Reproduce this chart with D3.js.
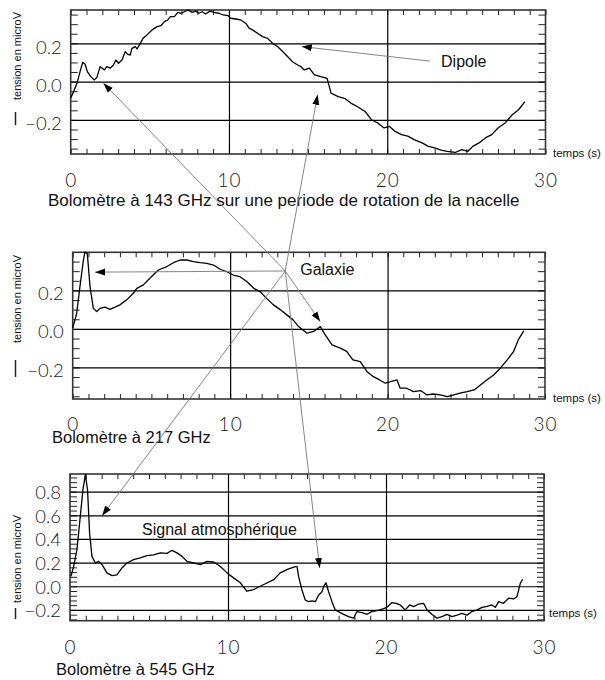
<!DOCTYPE html>
<html><head><meta charset="utf-8">
<script src="https://cdn.jsdelivr.net/npm/d3@7"></script>
<style>body{margin:0;background:#fff}</style></head>
<body><svg id="c" width="605" height="680"></svg>
<script>
// ---------- DATA ----------
const xTickValues = [0, 10, 20, 30];
const xTickLabels = ["0", "10", "20", "30"];
const yTicksSmall = [-0.2, 0.0, 0.2];
const yTicksLarge = [-0.2, 0.0, 0.2, 0.4, 0.6, 0.8];
const captions = [
  "Bolomètre à 143 GHz sur une periode de rotation de la nacelle",
  "Bolomètre à 217 GHz",
  "Bolomètre à 545 GHz"
];
const yTitle = "tension en microV";
const xTitle = "temps (s)";

const t143 = [0,0.17,0.42,0.59,0.76,0.91,1.05,1.27,1.48,1.65,1.86,2.0,2.13,2.28,2.49,2.7,2.85,3.02,3.24,3.45,3.59,3.76,3.87,4.08,4.19,4.4,4.57,4.82,5.14,5.46,5.71,5.92,6.13,6.3,6.55,6.77,6.98,7.19,7.4,7.68,7.89,8.1,8.31,8.52,8.8,9.05,9.37,9.64,9.94,10.1,10.43,10.74,11.06,11.27,11.48,11.8,12.12,12.44,12.75,13.07,13.39,13.7,14.02,14.34,14.55,14.76,15.08,15.4,15.8,16.2,16.45,16.9,17.3,17.7,18.1,18.6,19.0,19.4,19.8,20.15,20.5,20.9,21.3,21.7,22.2,22.6,23.0,23.4,23.8,24.3,24.7,25.1,25.4,25.8,26.2,26.6,27.0,27.45,27.9,28.3,28.7];
const v143 = [-0.085,-0.055,-0.003,0.052,0.101,0.091,0.052,0.026,0.009,0.021,0.078,0.07,0.061,0.078,0.07,0.087,0.113,0.096,0.113,0.157,0.143,0.139,0.174,0.183,0.171,0.2,0.226,0.244,0.27,0.287,0.293,0.313,0.322,0.339,0.339,0.362,0.357,0.365,0.374,0.362,0.368,0.357,0.365,0.353,0.368,0.362,0.357,0.348,0.345,0.331,0.327,0.322,0.305,0.279,0.27,0.253,0.235,0.226,0.2,0.183,0.157,0.131,0.104,0.087,0.078,0.061,0.07,0.035,0.026,0.017,-0.06,-0.078,-0.087,-0.112,-0.13,-0.156,-0.199,-0.216,-0.242,-0.234,-0.26,-0.277,-0.285,-0.303,-0.32,-0.338,-0.346,-0.358,-0.364,-0.37,-0.355,-0.364,-0.338,-0.32,-0.294,-0.277,-0.242,-0.216,-0.173,-0.147,-0.104];

const t217 = [0,0.25,0.46,0.68,0.78,0.93,1.1,1.31,1.52,1.74,2.05,2.37,2.69,3.0,3.43,3.85,4.07,4.49,4.9,5.44,5.98,6.4,6.82,7.25,7.67,8.09,8.52,8.94,9.36,9.79,10.2,10.6,11.06,11.5,11.9,12.3,12.75,13.2,13.6,14.0,14.35,14.88,15.3,15.73,16.04,16.47,17.0,17.4,17.8,18.26,18.7,19.1,19.5,19.85,20.2,20.6,20.8,21.2,21.65,22.1,22.5,22.9,23.35,23.8,24.2,24.6,25.05,25.5,25.9,26.3,26.74,27.16,27.6,28.0,28.3,28.65];
const v217 = [0.004,0.08,0.22,0.358,0.4,0.39,0.22,0.107,0.09,0.107,0.113,0.102,0.113,0.125,0.151,0.185,0.211,0.229,0.263,0.306,0.324,0.344,0.358,0.358,0.35,0.344,0.341,0.332,0.31,0.297,0.28,0.272,0.246,0.211,0.194,0.16,0.125,0.099,0.073,0.047,0.012,-0.022,-0.013,0.012,-0.031,-0.083,-0.1,-0.117,-0.161,-0.17,-0.222,-0.248,-0.265,-0.282,-0.274,-0.265,-0.308,-0.308,-0.326,-0.32,-0.343,-0.338,-0.343,-0.352,-0.343,-0.334,-0.326,-0.317,-0.291,-0.265,-0.239,-0.204,-0.161,-0.118,-0.057,-0.01];

const t545 = [0.06,0.23,0.44,0.65,0.82,0.97,1.11,1.24,1.39,1.6,1.81,2.03,2.34,2.66,2.97,3.29,3.6,4.03,4.45,4.87,5.29,5.72,6.14,6.46,6.77,7.09,7.4,7.82,8.25,8.67,9.09,9.5,9.94,10.35,10.78,11.2,11.62,12.04,12.46,12.9,13.3,13.73,13.94,14.26,14.37,14.47,14.68,14.89,15.1,15.32,15.53,15.74,15.95,16.05,16.2,16.37,16.58,16.79,17.1,17.32,17.63,17.95,18.16,18.48,18.8,19.1,19.43,19.75,20.06,20.38,20.65,20.9,21.22,21.5,21.75,22.06,22.38,22.6,22.9,23.23,23.54,23.86,24.18,24.5,24.8,25.13,25.44,25.76,26.08,26.4,26.7,26.92,27.13,27.44,27.76,28.08,28.29,28.5,28.65];
const v545 = [0.084,0.169,0.31,0.59,0.816,0.943,0.816,0.45,0.253,0.197,0.21,0.183,0.113,0.09,0.096,0.155,0.197,0.225,0.24,0.259,0.265,0.282,0.278,0.304,0.282,0.253,0.211,0.197,0.183,0.211,0.205,0.169,0.113,0.071,0.029,-0.042,-0.028,0.0,0.028,0.056,0.113,0.141,0.152,0.166,0.166,0.081,-0.031,-0.116,-0.13,-0.124,-0.13,-0.074,-0.046,-0.003,0.03,-0.046,-0.13,-0.2,-0.223,-0.237,-0.257,-0.27,-0.214,-0.223,-0.237,-0.214,-0.206,-0.194,-0.178,-0.138,-0.144,-0.158,-0.2,-0.158,-0.172,-0.15,-0.144,-0.2,-0.237,-0.27,-0.257,-0.237,-0.257,-0.244,-0.23,-0.244,-0.214,-0.2,-0.178,-0.169,-0.158,-0.178,-0.13,-0.144,-0.101,-0.107,-0.087,0.025,0.059];

// annotation labels and arrows (in data coordinates of their panel)
const annLabels = ["Dipole", "Galaxie", "Signal atmosphérique"];
const annLabelPanel = [0, 1, 2];
const annLabelT = [23.4, 14.45, 4.56];
const annLabelV = [0.078, 0.28, 0.436];
const arrowFromPanel = [0, 1, 1, 1, 1, 1, 1];
const arrowFromT = [22.7, 13.5, 13.5, 13.5, 13.5, 13.5, 13.5];
const arrowFromV = [0.107, 0.301, 0.301, 0.301, 0.301, 0.301, 0.301];
const arrowToPanel = [0, 0, 0, 1, 1, 2, 2];
const arrowToT = [14.6, 2.07, 15.6, 1.42, 15.72, 2.03, 15.8];
const arrowToV = [0.183, -0.008, -0.069, 0.295, 0.038, 0.597, 0.155];

// ---------- LAYOUT ----------
const panels = [
  {t: t143, v: v143, left: 70.7, right: 545.5, top: 10, bottom: 154, yDom: [-0.378, 0.374], yTicks: yTicksSmall, minor: 0.05, lblDy: 10, xLblY: 187, capX: 48, capY: 206, capSize: 17, tempsX: 553, tempsY: 157, titleStart: 100, barY: [112, 125]},
  {t: t217, v: v217, left: 72.7, right: 545, top: 252.3, bottom: 399, yDom: [-0.364, 0.398], yTicks: yTicksSmall, minor: 0.05, lblDy: 9, xLblY: 431, capX: 52, capY: 442.5, capSize: 16.5, tempsX: 553, tempsY: 402, titleStart: 343, barY: [360, 377]},
  {t: t545, v: v545, left: 70, right: 544, top: 474, bottom: 620.7, yDom: [-0.291, 0.949], yTicks: yTicksLarge, minor: 0.04, lblDy: 7, xLblY: 654, capX: 56, capY: 675, capSize: 16.5, tempsX: 549, tempsY: 617, titleStart: 603, barY: [608, 619]}
];

const svg = d3.select("#c");
const FONT = "'Liberation Sans', Arial, Helvetica, sans-serif";
const NUMFONT = "Lato, 'Liberation Sans', sans-serif";

svg.append("defs").append("marker")
  .attr("id", "ah").attr("viewBox", "0 -4 10 8")
  .attr("refX", 10).attr("refY", 0)
  .attr("markerWidth", 10).attr("markerHeight", 8)
  .attr("markerUnits", "userSpaceOnUse")
  .attr("orient", "auto")
  .append("path").attr("d", "M0,-3.5L10,0L0,3.5Z").attr("fill", "#000");

const fmt = v => (v < 0 ? "\u2212" : "") + Math.abs(v).toFixed(1);

panels.forEach((p, i) => {
  p.x = d3.scaleLinear().domain([0, 30]).range([p.left, p.right]);
  p.y = d3.scaleLinear().domain(p.yDom).range([p.bottom, p.top]);
  const w = p.right - p.left, h = p.bottom - p.top;
  const g = svg.append("g");

  const styleTicks = s => s.selectAll("line").attr("stroke", "#222").attr("stroke-width", 1);

  // minor ticks x (top & bottom)
  const xMinor = d3.range(0, 31, 1);
  g.append("g").attr("transform", `translate(0,${p.bottom})`)
    .call(d3.axisBottom(p.x).tickValues(xMinor).tickSize(-5).tickFormat(""))
    .call(s => s.select(".domain").remove()).call(styleTicks);
  g.append("g").attr("transform", `translate(0,${p.top})`)
    .call(d3.axisTop(p.x).tickValues(xMinor).tickSize(-5).tickFormat(""))
    .call(s => s.select(".domain").remove()).call(styleTicks);

  // minor ticks y (left & right)
  const k0 = Math.ceil(p.yDom[0] / p.minor - 1e-6), k1 = Math.floor(p.yDom[1] / p.minor + 1e-6);
  const yMinor = d3.range(k0, k1 + 1).map(k => +(k * p.minor).toFixed(3));
  g.append("g").attr("transform", `translate(${p.left},0)`)
    .call(d3.axisLeft(p.y).tickValues(yMinor).tickSize(-7).tickFormat(""))
    .call(s => s.select(".domain").remove()).call(styleTicks);
  g.append("g").attr("transform", `translate(${p.right},0)`)
    .call(d3.axisRight(p.y).tickValues(yMinor).tickSize(-7).tickFormat(""))
    .call(s => s.select(".domain").remove()).call(styleTicks);

  // grid lines
  g.append("g").attr("transform", `translate(${p.left},0)`)
    .call(d3.axisLeft(p.y).tickValues(p.yTicks).tickSize(-w).tickFormat(""))
    .call(s => s.select(".domain").remove())
    .selectAll("line").attr("stroke", "#000").attr("stroke-width", 1.2);
  g.append("g").attr("transform", `translate(0,${p.bottom})`)
    .call(d3.axisBottom(p.x).tickValues([10, 20]).tickSize(-h).tickFormat(""))
    .call(s => s.select(".domain").remove())
    .selectAll("line").attr("stroke", "#000").attr("stroke-width", 1.2);

  // frame
  g.append("rect").attr("x", p.left).attr("y", p.top).attr("width", w).attr("height", h)
    .attr("fill", "none").attr("stroke", "#333").attr("stroke-width", 1.6);

  // y tick labels
  g.append("g").attr("transform", `translate(${p.left},0)`)
    .call(d3.axisLeft(p.y).tickValues(p.yTicks).tickSize(0).tickPadding(9).tickFormat(fmt))
    .call(s => s.select(".domain").remove())
    .selectAll("text").attr("dy", p.lblDy).attr("font-family", NUMFONT).attr("font-weight", 300)
    .attr("font-size", 18.5).attr("fill", "#222");

  // x tick labels
  g.append("g").attr("transform", `translate(0,${p.xLblY})`)
    .call(d3.axisBottom(p.x).tickValues(xTickValues).tickSize(0).tickPadding(0)
      .tickFormat((d, j) => xTickLabels[j]))
    .call(s => s.select(".domain").remove())
    .selectAll("text").attr("dy", 0).attr("y", 0).attr("font-family", NUMFONT).attr("font-weight", 300)
    .attr("font-size", 19).attr("letter-spacing", 1).attr("fill", "#222");

  // curve
  const pts = p.t.map((t, j) => [t, p.v[j]]);
  g.append("path").datum(pts)
    .attr("d", d3.line().x(d => p.x(d[0])).y(d => p.y(d[1])))
    .attr("fill", "none").attr("stroke", "#000").attr("stroke-width", 1.3)
    .attr("stroke-linejoin", "round");

  // texts
  g.append("text").attr("x", p.capX).attr("y", p.capY).text(captions[i])
    .attr("font-family", FONT).attr("font-size", p.capSize).attr("fill", "#111");
  g.append("text").attr("x", p.tempsX).attr("y", p.tempsY).text(xTitle)
    .attr("font-family", FONT).attr("font-size", 11.5).attr("fill", "#111");
  g.append("text").attr("transform", `translate(20.5,${p.titleStart}) rotate(-90)`)
    .text(yTitle).attr("font-family", FONT).attr("font-size", 11).attr("fill", "#111");
  g.append("line").attr("x1", 15.5).attr("x2", 15.5).attr("y1", p.barY[0]).attr("y2", p.barY[1])
    .attr("stroke", "#222").attr("stroke-width", 1.5);
});

// annotation labels
annLabels.forEach((s, i) => {
  const p = panels[annLabelPanel[i]];
  svg.append("text").attr("x", p.x(annLabelT[i])).attr("y", p.y(annLabelV[i])).text(s)
    .attr("font-family", FONT).attr("font-size", 16).attr("fill", "#111");
});

// arrows
arrowFromT.forEach((_, i) => {
  const pf = panels[arrowFromPanel[i]], pt = panels[arrowToPanel[i]];
  svg.append("line")
    .attr("x1", pf.x(arrowFromT[i])).attr("y1", pf.y(arrowFromV[i]))
    .attr("x2", pt.x(arrowToT[i])).attr("y2", pt.y(arrowToV[i]))
    .attr("stroke", "#777").attr("stroke-width", 0.9)
    .attr("marker-end", "url(#ah)");
});
</script></body></html>
